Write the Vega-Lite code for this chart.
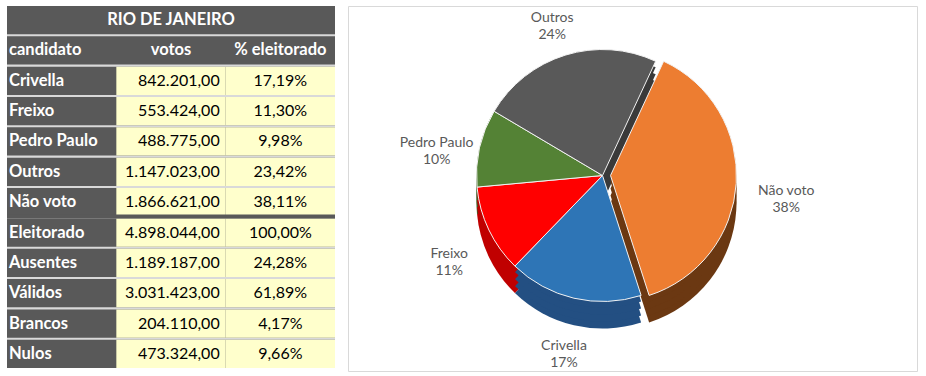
{
  "$schema": "https://vega.github.io/schema/vega-lite/v6.json",
  "background": "white",
  "padding": {"left": 5, "top": 5, "right": 0, "bottom": 0},
  "spacing": 10,
  "config": {"font": "Lato", "view": {"stroke": null}},
  "datasets": {
    "tabela": [
      {"linha": "titulo", "tipo": "titulo", "candidato": "", "votos": "RIO DE JANEIRO", "pct": ""},
      {"linha": "cabecalho", "tipo": "cabecalho", "candidato": "candidato", "votos": "votos", "pct": "% eleitorado"},
      {"linha": "Crivella", "tipo": "dado", "candidato": "Crivella", "votos": "842.201,00", "pct": "17,19%"},
      {"linha": "Freixo", "tipo": "dado", "candidato": "Freixo", "votos": "553.424,00", "pct": "11,30%"},
      {"linha": "Pedro Paulo", "tipo": "dado", "candidato": "Pedro Paulo", "votos": "488.775,00", "pct": "9,98%"},
      {"linha": "Outros", "tipo": "dado", "candidato": "Outros", "votos": "1.147.023,00", "pct": "23,42%"},
      {"linha": "Não voto", "tipo": "dado", "candidato": "Não voto", "votos": "1.866.621,00", "pct": "38,11%"},
      {"linha": "Eleitorado", "tipo": "dado", "candidato": "Eleitorado", "votos": "4.898.044,00", "pct": "100,00%"},
      {"linha": "Ausentes", "tipo": "dado", "candidato": "Ausentes", "votos": "1.189.187,00", "pct": "24,28%"},
      {"linha": "Válidos", "tipo": "dado", "candidato": "Válidos", "votos": "3.031.423,00", "pct": "61,89%"},
      {"linha": "Brancos", "tipo": "dado", "candidato": "Brancos", "votos": "204.110,00", "pct": "4,17%"},
      {"linha": "Nulos", "tipo": "dado", "candidato": "Nulos", "votos": "473.324,00", "pct": "9,66%"}
    ],
    "pizza": [
      {"candidato": "Crivella", "votos": 842201, "ordem": 1, "rotulo": "Crivella\n17%"},
      {"candidato": "Freixo", "votos": 553424, "ordem": 2, "rotulo": "Freixo\n11%"},
      {"candidato": "Pedro Paulo", "votos": 488775, "ordem": 3, "rotulo": "Pedro Paulo\n10%"},
      {"candidato": "Outros", "votos": 1147023, "ordem": 4, "rotulo": "Outros\n24%"},
      {"candidato": "Não voto", "votos": 1866621, "ordem": 5, "rotulo": "Não voto\n38%"}
    ]
  },
  "hconcat": [
    {
      "width": 328,
      "height": 362,
      "view": {"stroke": null, "fill": "#d9d9d9"},
      "data": {"name": "tabela"},
      "encoding": {
        "y": {
          "field": "linha",
          "type": "nominal",
          "scale": {
            "domain": ["titulo", "cabecalho", "Crivella", "Freixo", "Pedro Paulo", "Outros", "Não voto", "Eleitorado", "Ausentes", "Válidos", "Brancos", "Nulos"],
            "paddingInner": 0.07,
            "paddingOuter": 0
          },
          "axis": null
        }
      },
      "layer": [
        {"mark": {"type": "rect", "color": "#595959"}},
        {
          "transform": [
            {"filter": "datum.tipo === 'dado'"},
            {"fold": ["votos", "pct"], "as": ["coluna", "valor"]}
          ],
          "mark": {"type": "rect", "color": "#FFFFCC"},
          "encoding": {
            "x": {
              "field": "coluna",
              "type": "nominal",
              "scale": {"domain": ["candidato", "votos", "pct"], "paddingInner": 0, "paddingOuter": 0},
              "axis": null
            }
          }
        },
        {
          "transform": [{"filter": "datum.linha === 'Eleitorado'"}],
          "mark": {"type": "rule", "color": "#595959", "strokeWidth": 4, "yOffset": -2},
          "encoding": {"y": {"field": "linha", "type": "nominal", "bandPosition": 0}}
        },
        {
          "transform": [{"filter": "datum.tipo !== 'titulo'"}],
          "mark": {"type": "text", "align": "left", "dx": 2, "fontSize": 16.5, "fontWeight": "bold", "color": "white"},
          "encoding": {
            "x": {"datum": "candidato", "type": "nominal", "bandPosition": 0},
            "text": {"field": "candidato"}
          }
        },
        {
          "transform": [{"filter": "datum.tipo === 'dado'"}],
          "mark": {"type": "text", "align": "right", "dx": -6, "fontSize": 16, "color": "black"},
          "encoding": {
            "x": {"datum": "votos", "type": "nominal", "bandPosition": 1},
            "text": {"field": "votos"}
          }
        },
        {
          "transform": [{"filter": "datum.tipo === 'dado'"}],
          "mark": {"type": "text", "align": "center", "fontSize": 16, "color": "black"},
          "encoding": {
            "x": {"datum": "pct", "type": "nominal"},
            "text": {"field": "pct"}
          }
        },
        {
          "transform": [{"filter": "datum.tipo !== 'dado'"}],
          "mark": {"type": "text", "align": "center", "fontSize": 16.5, "fontWeight": "bold", "color": "white"},
          "encoding": {
            "x": {"datum": "votos", "type": "nominal"},
            "text": {"field": "votos"}
          }
        },
        {
          "transform": [{"filter": "datum.tipo === 'cabecalho'"}],
          "mark": {"type": "text", "align": "center", "fontSize": 16.5, "fontWeight": "bold", "color": "white"},
          "encoding": {
            "x": {"datum": "pct", "type": "nominal"},
            "text": {"field": "pct"}
          }
        }
      ]
    },
    {
      "width": 569,
      "height": 365,
      "view": {"stroke": "#d9d9d9", "fill": "white"},
      "data": {"name": "pizza"},
      "encoding": {
        "theta": {"field": "votos", "type": "quantitative", "stack": true, "scale": {"range": [2.83, 9.1132]}},
        "order": {"field": "ordem", "type": "quantitative"}
      },
      "layer": [
        {
          "mark": {"type": "arc", "outerRadius": 126, "yOffset": 14, "xOffset": {"expr": "datum.candidato === 'Não voto' ? -22 : -30"}},
          "encoding": {
            "color": {
              "field": "candidato",
              "type": "nominal",
              "scale": {"domain": ["Crivella", "Freixo", "Pedro Paulo", "Outros", "Não voto"], "range": ["#234F82", "#C00000", "#3B5E25", "#3A3A3A", "#6B3812"]},
              "legend": null
            }
          }
        },
        {
          "mark": {"type": "arc", "outerRadius": 126, "yOffset": 7, "xOffset": {"expr": "datum.candidato === 'Não voto' ? -22 : -30"}},
          "encoding": {
            "color": {
              "field": "candidato",
              "type": "nominal",
              "scale": {"domain": ["Crivella", "Freixo", "Pedro Paulo", "Outros", "Não voto"], "range": ["#234F82", "#C00000", "#3B5E25", "#3A3A3A", "#6B3812"]},
              "legend": null
            }
          }
        },
        {
          "mark": {"type": "arc", "outerRadius": 126, "yOffset": 0, "xOffset": {"expr": "datum.candidato === 'Não voto' ? -22 : -30"}},
          "encoding": {
            "color": {
              "field": "candidato",
              "type": "nominal",
              "scale": {"domain": ["Crivella", "Freixo", "Pedro Paulo", "Outros", "Não voto"], "range": ["#234F82", "#C00000", "#3B5E25", "#3A3A3A", "#6B3812"]},
              "legend": null
            }
          }
        },
        {
          "mark": {"type": "arc", "outerRadius": 126, "yOffset": -7, "xOffset": {"expr": "datum.candidato === 'Não voto' ? -22 : -30"}},
          "encoding": {
            "color": {
              "field": "candidato",
              "type": "nominal",
              "scale": {"domain": ["Crivella", "Freixo", "Pedro Paulo", "Outros", "Não voto"], "range": ["#234F82", "#C00000", "#3B5E25", "#3A3A3A", "#6B3812"]},
              "legend": null
            }
          }
        },
        {
          "mark": {"type": "arc", "outerRadius": 126, "yOffset": -13, "stroke": "#f2f2f2", "strokeWidth": 1, "xOffset": {"expr": "datum.candidato === 'Não voto' ? -22 : -30"}},
          "encoding": {
            "fill": {
              "field": "candidato",
              "type": "nominal",
              "scale": {"domain": ["Crivella", "Freixo", "Pedro Paulo", "Outros", "Não voto"], "range": ["#2E75B6", "#FF0000", "#548235", "#595959", "#ED7D31"]},
              "legend": null
            }
          }
        },
        {
          "mark": {"type": "text", "radius": 170, "yOffset": -8, "lineBreak": "\n", "fontSize": 14, "lineHeight": 17, "color": "#595959", "align": "center", "baseline": "middle", "xOffset": {"expr": "datum.candidato === 'Não voto' ? -16 : -30"}},
          "encoding": {"text": {"field": "rotulo"}}
        }
      ],
      "resolve": {"scale": {"color": "independent", "fill": "independent"}}
    }
  ]
}
